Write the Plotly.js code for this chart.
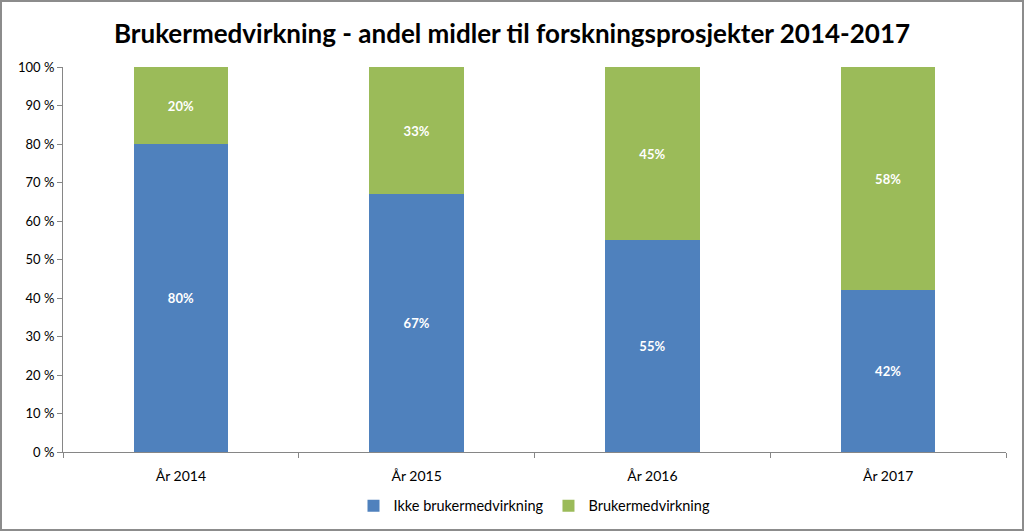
<!DOCTYPE html>
<html><head><meta charset="utf-8">
<script src="https://cdn.plot.ly/plotly-3.0.1.min.js"></script>
<style>
html,body{margin:0;padding:0;background:#fff;}
#wrap{width:1024px;height:531px;box-sizing:border-box;border:2px solid #8c8c8c;overflow:hidden;}
#chart{width:1020px;height:527px;}
</style></head>
<body><div id="wrap"><div id="chart"></div></div>
<script>
const categories = ["År 2014", "År 2015", "År 2016", "År 2017"];
const ikkeBruker = [80, 67, 55, 42];
const bruker = [20, 33, 45, 58];
const seriesNames = ["Ikke brukermedvirkning", "Brukermedvirkning"];
const yTicks = [0,10,20,30,40,50,60,70,80,90,100];

const font = "Lato, 'Open Sans', sans-serif";
const mk = (vals, name, color) => ({
  type: 'bar', x: categories, y: vals, name: name,
  marker: {color: color},
  text: vals.map(v => v + '%'),
  textposition: 'inside', insidetextanchor: 'middle',
  textfont: {color: '#ffffff', size: 13, family: font, weight: 'bold'},
  hoverinfo: 'skip'
});
const data = [mk(ikkeBruker, seriesNames[0], '#4F81BD'), mk(bruker, seriesNames[1], '#9BBB59')];
const layout = {
  width: 1020, height: 527,
  margin: {l: 61, r: 16, t: 65, b: 77},
  barmode: 'stack', bargap: 0.6,
  paper_bgcolor: '#fff', plot_bgcolor: '#fff',
  title: {text: 'Brukermedvirkning - andel midler til forskningsprosjekter 2014-2017',
    font: {family: font, size: 26, color: '#000', weight: 'bold'}, x: 0.5, xanchor: 'center', y: 0.94, yanchor: 'middle'},
  font: {family: font, size: 13, color: '#000'},
  xaxis: {type: 'category', tickson: 'boundaries', ticks: 'outside', ticklen: 5, tickcolor: '#868686',
    showline: true, linecolor: '#868686', linewidth: 1, showgrid: false, zeroline: false,
    ticklabelstandoff: 11, automargin: false,
    tickfont: {size: 14, family: font, color: '#000'}},
  yaxis: {range: [0, 100], tickvals: yTicks, ticktext: yTicks.map(v => v + ' %'), automargin: false,
    ticks: 'outside', ticklen: 5, tickcolor: '#868686', showline: true, linecolor: '#868686', linewidth: 1,
    showgrid: false, zeroline: false, tickfont: {size: 13, family: font, color: '#000'}},
  legend: {orientation: 'h', x: 0.5, xanchor: 'center', yref: 'container', y: 0.044, yanchor: 'middle',
    font: {size: 14.5, family: font, color: '#000'}, traceorder: 'normal', itemwidth: 30}
};
Plotly.newPlot('chart', data, layout, {displayModeBar: false, staticPlot: true});
</script></body></html>
